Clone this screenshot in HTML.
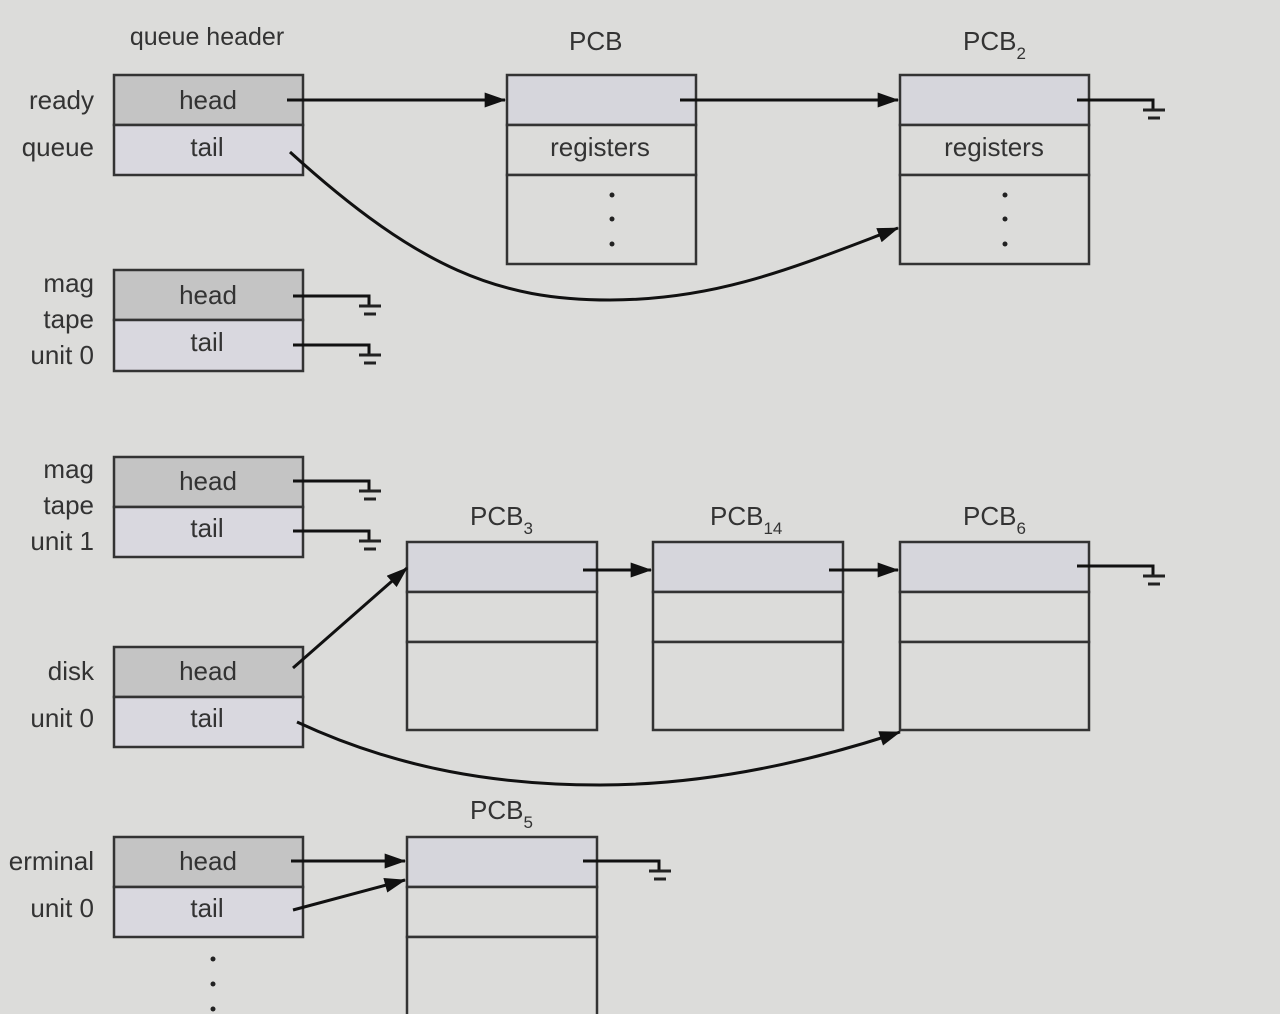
<!DOCTYPE html>
<html><head><meta charset="utf-8"><style>
html,body{margin:0;padding:0;background:#dcdcda;}
svg{display:block}
text{font-family:"Liberation Sans",sans-serif;fill:#333;}
</style></head><body>
<svg width="1280" height="1014" viewBox="0 0 1280 1014" xmlns="http://www.w3.org/2000/svg">
<defs>
<marker id="a" markerWidth="10" markerHeight="10" refX="9" refY="5" orient="auto" markerUnits="userSpaceOnUse" viewBox="0 0 10 10">
</marker>
<marker id="ar" viewBox="0 0 20 14" refX="19" refY="7" markerWidth="22" markerHeight="15" orient="auto" markerUnits="userSpaceOnUse"><path d="M0,0 L20,7 L0,14 Z" fill="#111"/></marker>
<g id="gnd"><path d="M0,0 H76 V9" fill="none" stroke="#111" stroke-width="3"/><path d="M66,10 H88 M71,18 H83" stroke="#222" stroke-width="3"/></g>
</defs>
<rect width="1280" height="1014" fill="#dcdcda"/>
<g stroke="#333" stroke-width="2.5">
<!-- queue headers -->
<g>
<rect x="114" y="75" width="189" height="50" fill="#c4c4c4"/><rect x="114" y="125" width="189" height="50" fill="#d9d8df"/>
<rect x="114" y="270" width="189" height="50" fill="#c4c4c4"/><rect x="114" y="320" width="189" height="51" fill="#d9d8df"/>
<rect x="114" y="457" width="189" height="50" fill="#c4c4c4"/><rect x="114" y="507" width="189" height="50" fill="#d9d8df"/>
<rect x="114" y="647" width="189" height="50" fill="#c4c4c4"/><rect x="114" y="697" width="189" height="50" fill="#d9d8df"/>
<rect x="114" y="837" width="189" height="50" fill="#c4c4c4"/><rect x="114" y="887" width="189" height="50" fill="#d9d8df"/>
</g>
<!-- PCB1, PCB2 -->
<rect x="507" y="75" width="189" height="50" fill="#d6d6dc"/><rect x="507" y="125" width="189" height="50" fill="#dcdcda"/><rect x="507" y="175" width="189" height="89" fill="#dcdcda"/>
<rect x="900" y="75" width="189" height="50" fill="#d6d6dc"/><rect x="900" y="125" width="189" height="50" fill="#dcdcda"/><rect x="900" y="175" width="189" height="89" fill="#dcdcda"/>
<!-- PCB3,14,6 -->
<rect x="407" y="542" width="190" height="50" fill="#d6d6dc"/><rect x="407" y="592" width="190" height="50" fill="#dcdcda"/><rect x="407" y="642" width="190" height="88" fill="#dcdcda"/>
<rect x="653" y="542" width="190" height="50" fill="#d6d6dc"/><rect x="653" y="592" width="190" height="50" fill="#dcdcda"/><rect x="653" y="642" width="190" height="88" fill="#dcdcda"/>
<rect x="900" y="542" width="189" height="50" fill="#d6d6dc"/><rect x="900" y="592" width="189" height="50" fill="#dcdcda"/><rect x="900" y="642" width="189" height="88" fill="#dcdcda"/>
<!-- PCB5 -->
<rect x="407" y="837" width="190" height="50" fill="#d6d6dc"/><rect x="407" y="887" width="190" height="50" fill="#dcdcda"/><rect x="407" y="937" width="190" height="100" fill="#dcdcda"/>
</g>
<!-- dots -->
<g fill="#222">
<circle cx="612" cy="195" r="2.5"/><circle cx="612" cy="219" r="2.5"/><circle cx="612" cy="244" r="2.5"/>
<circle cx="1005" cy="195" r="2.5"/><circle cx="1005" cy="219" r="2.5"/><circle cx="1005" cy="244" r="2.5"/>
<circle cx="213" cy="959" r="2.5"/><circle cx="213" cy="984" r="2.5"/><circle cx="213" cy="1009" r="2.5"/>
</g>
<!-- arrows -->
<g stroke="#111" stroke-width="3" fill="none">
<path d="M287,100 H505" marker-end="url(#ar)"/>
<path d="M680,100 H898" marker-end="url(#ar)"/>
<path d="M290,152 C420,270 500,300 610,300 C720,300 800,265 898,228" marker-end="url(#ar)"/>
<path d="M293,668 L407,568" marker-end="url(#ar)"/>
<path d="M583,570 H651" marker-end="url(#ar)"/>
<path d="M829,570 H898" marker-end="url(#ar)"/>
<path d="M297,722 C400,770 500,785 600,785 C700,785 800,765 900,732" marker-end="url(#ar)"/>
<path d="M291,861 H405" marker-end="url(#ar)"/>
<path d="M293,910 L405,880" marker-end="url(#ar)"/>
</g>
<!-- grounds -->
<use href="#gnd" x="1077" y="100"/>
<use href="#gnd" x="293" y="296"/>
<use href="#gnd" x="293" y="345"/>
<use href="#gnd" x="293" y="481"/>
<use href="#gnd" x="293" y="531"/>
<use href="#gnd" x="1077" y="566"/>
<use href="#gnd" x="583" y="861"/>
<!-- text -->
<g font-size="26" text-anchor="middle">
<text x="207" y="45" font-size="25">queue header</text>
<text x="208" y="109">head</text><text x="207" y="156">tail</text>
<text x="208" y="304">head</text><text x="207" y="351">tail</text>
<text x="208" y="490">head</text><text x="207" y="537">tail</text>
<text x="208" y="680">head</text><text x="207" y="727">tail</text>
<text x="208" y="870">head</text><text x="207" y="917">tail</text>
<text x="600" y="156">registers</text><text x="994" y="156">registers</text>
</g>
<g font-size="26" text-anchor="end">
<text x="94" y="109">ready</text><text x="94" y="156">queue</text>
<text x="94" y="292">mag</text><text x="94" y="328">tape</text><text x="94" y="364">unit 0</text>
<text x="94" y="478">mag</text><text x="94" y="514">tape</text><text x="94" y="550">unit 1</text>
<text x="94" y="680">disk</text><text x="94" y="727">unit 0</text>
<text x="94" y="870">erminal</text><text x="94" y="917">unit 0</text>
</g>
<g font-size="26">
<text x="569" y="50">PCB</text>
<text x="963" y="50">PCB<tspan font-size="17" dy="9">2</tspan></text>
<text x="470" y="525">PCB<tspan font-size="17" dy="9">3</tspan></text>
<text x="710" y="525">PCB<tspan font-size="17" dy="9">14</tspan></text>
<text x="963" y="525">PCB<tspan font-size="17" dy="9">6</tspan></text>
<text x="470" y="819">PCB<tspan font-size="17" dy="9">5</tspan></text>
</g>
</svg>
</body></html>
